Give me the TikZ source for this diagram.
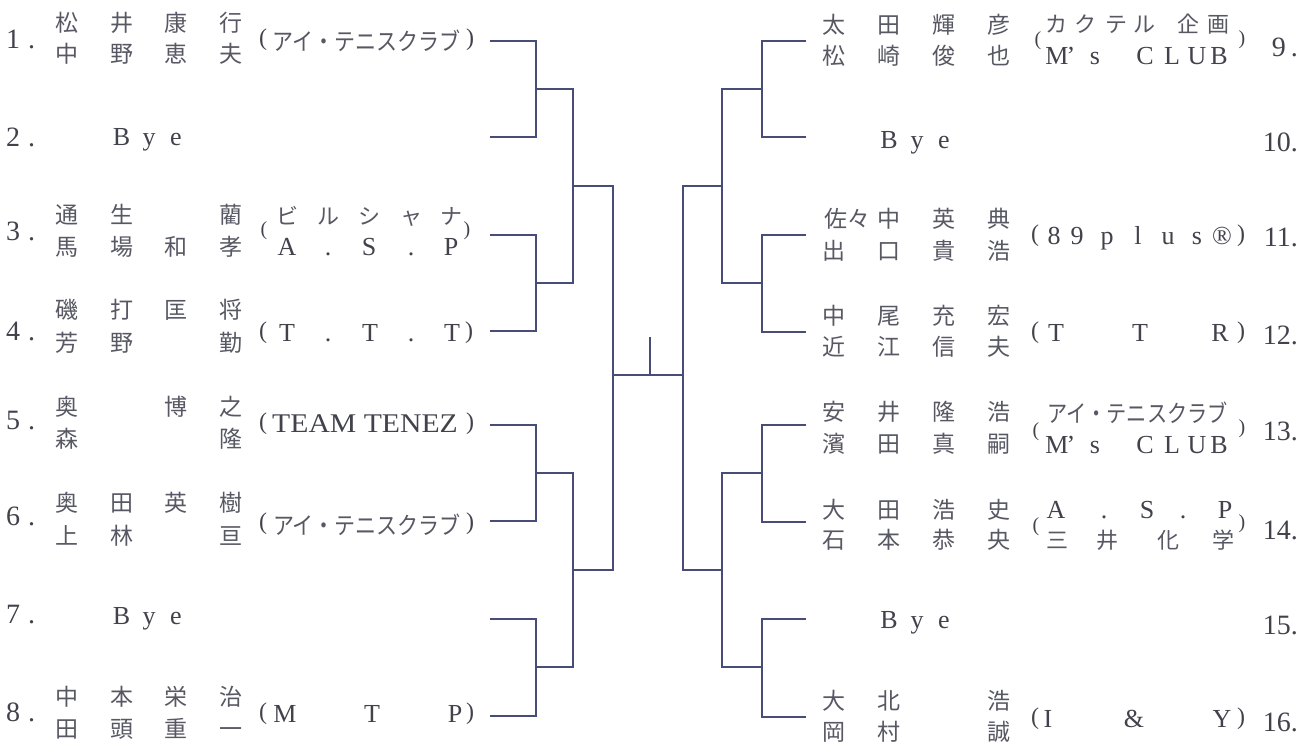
\documentclass[tikz,border=0pt]{standalone}
\usepackage{fontspec}
\setmainfont{Liberation Serif}
\newfontfamily\cjk{Noto Sans CJK JP}
\definecolor{linec}{RGB}{72,76,120}
\definecolor{txtc}{RGB}{66,66,76}
\definecolor{cjkc}{RGB}{88,88,100}
\newcommand\myrow[3]{\foreach \c/\x [count=\k] in {#3} \node[cj] (#1\k) at (\x,#2) {\c};}
\newcommand\mykat[3]{\foreach \c/\x [count=\k] in {#3} \node[kt] (#1\k) at (\x,#2) {\c};}
\newcommand\myltr[3]{\foreach \c/\x [count=\k] in {#3} \node[lt] (#1\k) at (\x,#2) {\c};}
\begin{document}
\begin{tikzpicture}[x=1pt,y=-1pt,
 ln/.style={draw=linec,line width=1.2pt},
 cj/.style={inner sep=0pt,text=cjkc,font=\cjk\fontsize{23}{23}\selectfont,text height=17.5pt,text depth=0pt},
 kt/.style={inner sep=0pt,text=cjkc,font=\cjk\fontsize{22}{22}\selectfont,text height=16.7pt,text depth=0pt},
 kk/.style={inner sep=0pt,text=cjkc,font=\cjk\fontsize{24}{24}\selectfont,text height=18.2pt,text depth=0pt},
 lt/.style={inner sep=0pt,text=txtc,font=\fontsize{26}{26}\selectfont,text height=17.2pt,text depth=0pt},
 lb/.style={inner sep=0pt,text=txtc,font=\fontsize{27}{27}\selectfont,text height=17.9pt,text depth=0pt},
 nm/.style={inner sep=0pt,text=txtc,font=\fontsize{28}{28}\selectfont,text height=18.9pt,text depth=0pt},
 pa/.style={inner sep=0pt,text=txtc,font=\fontsize{24}{24}\selectfont},
 ps/.style={inner sep=0pt,text=txtc,font=\fontsize{20}{20}\selectfont},
]
\useasboundingbox (0,0) rectangle (1309,744);
\fill[white] (0,0) rectangle (1309,744);

% ---------- bracket coordinates ----------
\coordinate (s1) at (490,41);  \coordinate (s2) at (490,137);
\coordinate (s3) at (490,235); \coordinate (s4) at (490,331);
\coordinate (s5) at (490,425); \coordinate (s6) at (490,521);
\coordinate (s7) at (490,619); \coordinate (s8) at (490,716);
\coordinate (m12) at (536,89);  \coordinate (m34) at (536,283);
\coordinate (m56) at (536,473); \coordinate (m78) at (536,667);
\coordinate (q1) at (573,186); \coordinate (q2) at (573,570);
\coordinate (c) at (613,375);
\coordinate (cr) at (683,375);
\coordinate (rq1) at (722,186); \coordinate (rq2) at (722,570);
\coordinate (rm1) at (762,89);  \coordinate (rm2) at (762,283);
\coordinate (rm3) at (762,473); \coordinate (rm4) at (762,667);
\coordinate (t9) at (806,41);   \coordinate (t10) at (806,137);
\coordinate (t11) at (806,235); \coordinate (t12) at (806,332);
\coordinate (t13) at (806,425); \coordinate (t14) at (806,522);
\coordinate (t15) at (806,619); \coordinate (t16) at (806,717);
\coordinate (tk) at (650,337);

% ---------- bracket lines ----------
\draw[ln] (s1) -| (m12) |- (s2);
\draw[ln] (s3) -| (m34) |- (s4);
\draw[ln] (s5) -| (m56) |- (s6);
\draw[ln] (s7) -| (m78) |- (s8);
\draw[ln] (m12) -| (q1) |- (m34);
\draw[ln] (m56) -| (q2) |- (m78);
\draw[ln] (q1) -| (c) |- (q2);
\draw[ln] (c) -- (cr);
\draw[ln] (tk) -- (tk |- c);
\draw[ln] (rq1) -| (cr) |- (rq2);
\draw[ln] (rm1) -| (rq1) |- (rm2);
\draw[ln] (rm3) -| (rq2) |- (rm4);
\draw[ln] (t9) -| (rm1) |- (t10);
\draw[ln] (t11) -| (rm2) |- (t12);
\draw[ln] (t13) -| (rm3) |- (t14);
\draw[ln] (t15) -| (rm4) |- (t16);

% ---------- left side ----------
% 1
\node[nm,anchor=west] (no1) at (6,39) {1\hspace{8pt}.};
\myrow{a1x}{23}{松/67,井/121.5,康/176,行/230.5}
\myrow{a1y}{54}{中/67,野/121.5,恵/176,夫/230.5}
\node[pa] (a1l) at (263,40) {(};
\node[kk] (a1t) at (366.5,41) {\scalebox{0.875}[1]{アイ・テニスクラブ}};
\node[pa] (a1r) at (470,40) {)};
% 2
\node[nm,anchor=west] (no2) at (6,137) {2\hspace{8pt}.};
\myltr{a2b}{137}{B/121.5,y/149,e/176}
% 3
\node[nm,anchor=west] (no3) at (6,231) {3\hspace{8pt}.};
\myrow{a3x}{215}{通/67,生/121.5,藺/230.5}
\myrow{a3y}{247}{馬/67,場/121.5,和/176,孝/230.5}
\mykat{a3k}{216}{ビ/287,ル/328,シ/369,ャ/411,ナ/451}
\myltr{a3m}{247}{A/287,./328,S/369,./411,P/451}
\node[ps] (a3l) at (264,231) {(};
\node[ps] (a3r) at (467,231) {)};
% 4
\node[nm,anchor=west] (no4) at (6,331) {4\hspace{8pt}.};
\myrow{a4x}{310}{磯/67,打/121.5,匡/176,将/230.5}
\myrow{a4y}{343}{芳/67,野/121.5,勤/230.5}
\node[pa] (a4l) at (263,333) {(};
\myltr{a4m}{333}{T/287,./328,T/370,./411,T/452}
\node[pa] (a4r) at (469,333) {)};
% 5
\node[nm,anchor=west] (no5) at (6,420) {5\hspace{8pt}.};
\myrow{a5x}{407}{奥/67,博/176,之/230.5}
\myrow{a5y}{439}{森/67,隆/230.5}
\node[pa] (a5l) at (263,424) {(};
\node[lb] (a5t) at (365,424) {\scalebox{1.1}[1]{TEAM TENEZ}};
\node[pa] (a5r) at (470,424) {)};
% 6
\node[nm,anchor=west] (no6) at (6,516) {6\hspace{8pt}.};
\myrow{a6x}{503}{奥/67,田/121.5,英/176,樹/230.5}
\myrow{a6y}{536}{上/67,林/121.5,亘/230.5}
\node[pa] (a6l) at (263,524) {(};
\node[kk] (a6t) at (367,525) {\scalebox{0.875}[1]{アイ・テニスクラブ}};
\node[pa] (a6r) at (470,524) {)};
% 7
\node[nm,anchor=west] (no7) at (6,614) {7\hspace{8pt}.};
\myltr{a7b}{616}{B/121.5,y/149,e/176}
% 8
\node[nm,anchor=west] (no8) at (6,712) {8\hspace{8pt}.};
\myrow{a8x}{697}{中/67,本/121.5,栄/176,治/230.5}
\myrow{a8y}{729}{田/67,頭/121.5,重/176,一/230.5}
\node[pa] (a8l) at (263,714) {(};
\myltr{a8m}{714}{M/285,T/372,P/455}
\node[pa] (a8r) at (470,714) {)};

% ---------- right side ----------
% 9
\myrow{b9x}{25}{太/834,田/889,輝/944,彦/999}
\myrow{b9y}{56}{松/834,崎/889,俊/944,也/999}
\mykat{b9k}{24}{カ/1056,ク/1085,テ/1116,ル/1144,企/1188,画/1218}
\myltr{b9m}{56}{M/1057,’/1071,s/1095,C/1145,L/1172,U/1197,B/1219}
\node[ps] (b9l) at (1038,41) {(};
\node[ps] (b9r) at (1242,40) {)};
\node[nm,anchor=east] (no9) at (1298,47) {9\hspace{5pt}.};
% 10
\myltr{b10b}{140}{B/889,y/917,e/944}
\node[nm,anchor=east] (no10) at (1298,142) {10.};
% 11
\myrow{b11x}{219}{佐/836,々/859,中/889,英/944,典/999}
\myrow{b11y}{251}{出/834,口/889,貴/944,浩/999}
\node[pa] (b11l) at (1035,236) {(};
\myltr{b11m}{236}{8/1054,9/1077,p/1107,l/1138,u/1168,s/1197,®/1222}
\node[pa] (b11r) at (1241,236) {)};
\node[nm,anchor=east] (no11) at (1298,237) {11.};
% 12
\myrow{b12x}{316}{中/834,尾/889,充/944,宏/999}
\myrow{b12y}{347}{近/834,江/889,信/944,夫/999}
\node[pa] (b12l) at (1035,333) {(};
\myltr{b12m}{333}{T/1056,T/1140,R/1220}
\node[pa] (b12r) at (1241,333) {)};
\node[nm,anchor=east] (no12) at (1298,335) {12.};
% 13
\myrow{b13x}{412}{安/834,井/889,隆/944,浩/999}
\myrow{b13y}{444}{濱/834,田/889,真/944,嗣/999}
\node[kk] (b13t) at (1137.5,413) {\scalebox{0.84}[1]{アイ・テニスクラブ}};
\myltr{b13m}{445}{M/1057,’/1071,s/1095,C/1145,L/1172,U/1197,B/1219}
\node[ps] (b13l) at (1036,432) {(};
\node[ps] (b13r) at (1242,429) {)};
\node[nm,anchor=east] (no13) at (1298,431) {13.};
% 14
\myrow{b14x}{510}{大/834,田/889,浩/944,史/999}
\myrow{b14y}{540}{石/834,本/889,恭/944,央/999}
\myltr{b14m}{510}{A/1056,./1104,S/1147,./1183,P/1225}
\mykat{b14k}{540}{三/1057,井/1107,化/1168,学/1223}
\node[ps] (b14l) at (1036,527) {(};
\node[ps] (b14r) at (1242,524) {)};
\node[nm,anchor=east] (no14) at (1298,530) {14.};
% 15
\myltr{b15b}{620}{B/889,y/917,e/944}
\node[nm,anchor=east] (no15) at (1298,625) {15.};
% 16
\myrow{b16x}{701}{大/834,北/889,浩/999}
\myrow{b16y}{732}{岡/834,村/889,誠/999}
\node[pa] (b16l) at (1035,719) {(};
\myltr{b16m}{719}{I/1048,\&/1134,Y/1222}
\node[pa] (b16r) at (1241,719) {)};
\node[nm,anchor=east] (no16) at (1298,722) {16.};
\end{tikzpicture}
\end{document}
